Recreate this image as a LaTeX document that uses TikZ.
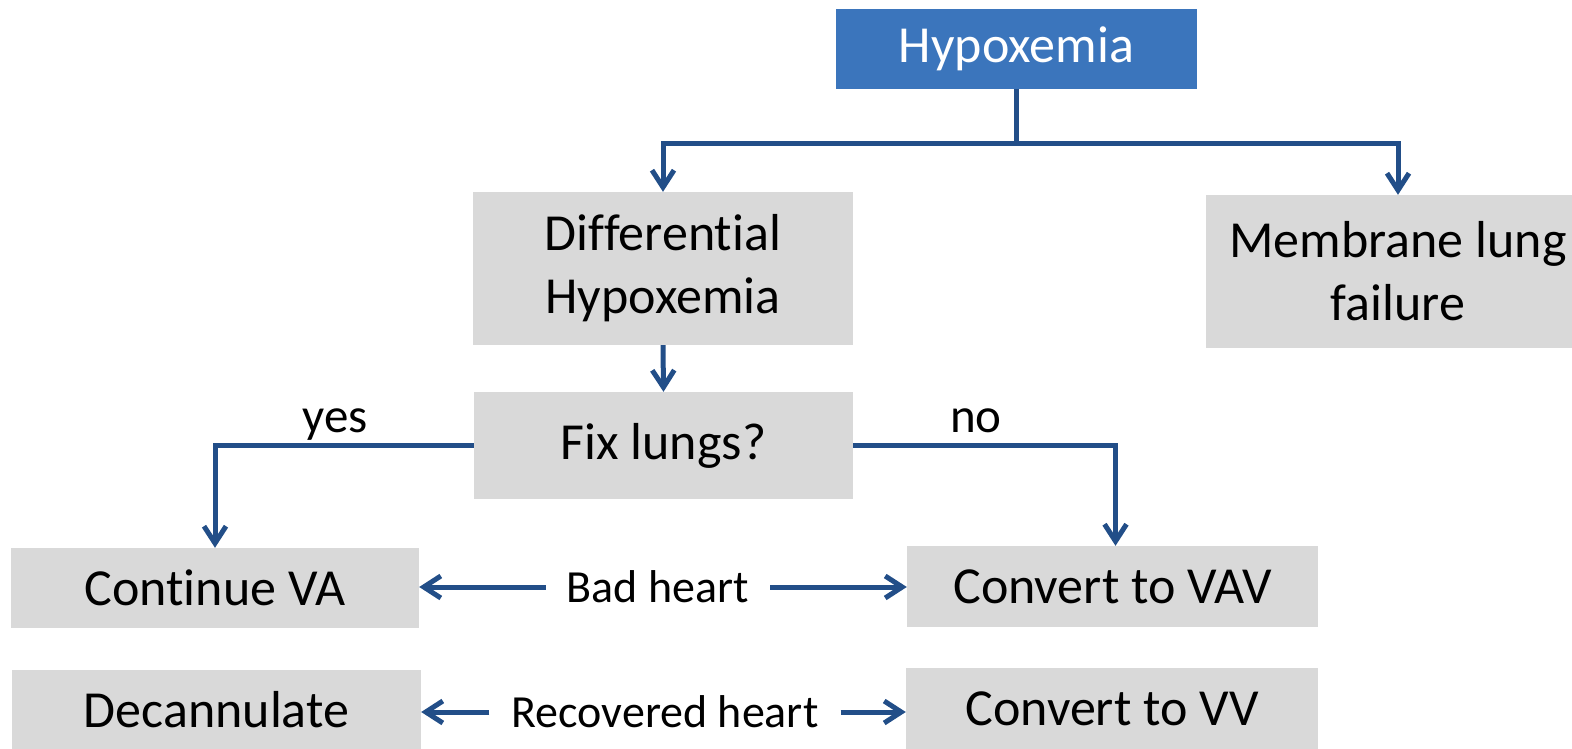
\documentclass[tikz,border=0pt]{standalone}
\usepackage{fontspec}
\setmainfont{Carlito}[Ligatures=CommonOff]
\usetikzlibrary{arrows.meta}
\definecolor{topblue}{RGB}{59,117,188}
\definecolor{linkblue}{RGB}{34,78,136}
\definecolor{boxgray}{RGB}{217,217,217}
\tikzset{
  box/.style={fill=boxgray, inner sep=0pt, align=center,
    font=\fontsize{52}{63}\selectfont},
  topbox/.style={box, fill=topblue, text=white},
  lbl/.style={inner ysep=0pt, font=\fontsize{46}{55}\selectfont},
  branch/.style={inner sep=0pt, font=\fontsize{49}{58}\selectfont},
  conn/.style={draw=linkblue, line width=5pt, line join=miter,
    -{Straight Barb[length=17pt, width=22pt, line width=5pt]}},
}
\begin{document}
\begin{tikzpicture}[x=1pt, y=-1pt]
\clip (0,0) rectangle (1572,749);
\useasboundingbox (0,0) rectangle (1572,749);

% boxes
\node[topbox, minimum width=361pt, minimum height=80pt] (hyp) at (1016.5,49) {Hypoxemia};
\node[box, minimum width=380pt, minimum height=153pt] (diff) at (663,268.5) {Differential\\Hypoxemia};
\node[box, minimum width=384pt, minimum height=153pt] (mem) at (1398,271.5) {Membrane lung\\failure};
\node[box, minimum width=379pt, minimum height=107pt] (fix) at (663.5,445.5) {Fix lungs?};
\node[box, minimum width=408pt, minimum height=80pt] (cva) at (215,588) {Continue VA};
\node[box, minimum width=409pt, minimum height=80pt] (dec) at (216.5,710) {Decannulate};
\node[box, minimum width=411pt, minimum height=81pt] (vav) at (1112.5,586.5) {Convert to VAV};
\node[box, minimum width=412pt, minimum height=81pt] (vv) at (1112,708.5) {Convert to VV};

% middle labels
\node[lbl, inner xsep=21pt] (bad) at (658,587) {Bad heart};
\node[lbl, inner xsep=22pt] (rec) at (665,712) {Recovered heart};

% branch labels
\node[branch, anchor=base] (yes) at (335,432) {yes};
\node[branch, anchor=base] (no) at (976,432) {no};

% connectors
\draw[conn] (hyp.south) -- ++(0,54) coordinate (split) -| (diff.north);
\draw[conn] (split) -| (mem.north);
\draw[conn] (diff.south) -- (fix.north);
\draw[conn] (fix.west) -| (cva.north);
\draw[conn] (fix.east) -| ([xshift=3pt]vav.north);
\draw[conn] (bad.west) -- (bad.west -| cva.east);
\draw[conn] (bad.east) -- (bad.east -| vav.west);
\draw[conn] (rec.west) -- (rec.west -| dec.east);
\draw[conn] (rec.east) -- (rec.east -| vv.west);
\end{tikzpicture}
\end{document}
